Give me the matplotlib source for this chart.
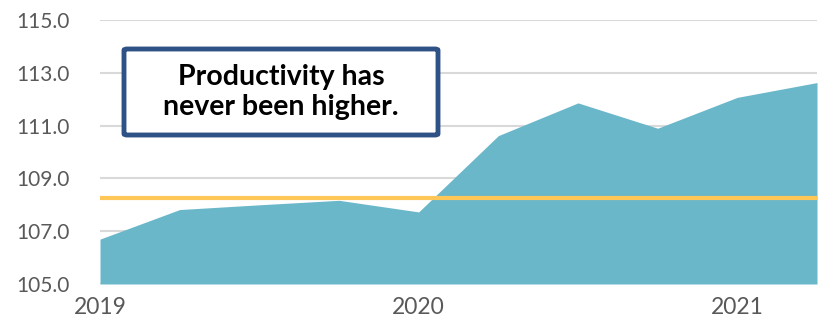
import matplotlib
matplotlib.use("Agg")
import matplotlib.pyplot as plt
from matplotlib.patches import FancyBboxPatch

quarters = [0, 1, 2, 3, 4, 5, 6, 7, 8, 9]
productivity = [106.7, 107.82, 108.0, 108.17, 107.73, 110.62, 111.86, 110.9, 112.07, 112.63]
reference_level = 108.26
year_ticks = [0, 4, 8]
year_labels = ["2019", "2020", "2021"]
y_ticks = [105, 107, 109, 111, 113, 115]

fig = plt.figure(figsize=(8.21, 3.27), dpi=100)
ax = fig.add_axes([100/821, 1-284/327, 717/821, 264/327])

ax.fill_between(quarters, productivity, 105, color="#6BB7CA", linewidth=0, zorder=2)
ax.axhline(reference_level, color="#FFC658", linewidth=3, zorder=3)

for y in y_ticks:
    ax.axhline(y, color="#D9D9D9", linewidth=1.5, zorder=1)

ax.set_xlim(0, 9)
ax.set_ylim(105, 115)
ax.set_yticks(y_ticks)
ax.set_yticklabels([f"{v:.1f}" for v in y_ticks])
ax.set_xticks(year_ticks)
ax.set_xticklabels(year_labels)
for s in ax.spines.values():
    s.set_visible(False)
ax.tick_params(axis="both", length=0, labelcolor="#595959")
ax.tick_params(axis="y", pad=22, labelsize=15)
ax.tick_params(axis="x", pad=9, labelsize=16.5)
for lab in ax.get_xticklabels() + ax.get_yticklabels():
    lab.set_fontfamily("Lato")

# annotation box
box = FancyBboxPatch((124/821, 1-135/327), 314/821, 86/327,
                     boxstyle="round,pad=0,rounding_size=0.004",
                     transform=fig.transFigure, facecolor="white",
                     edgecolor="#2F5286", linewidth=3.5, zorder=10)
fig.patches.append(box)
fig.text(281/821, 1-92/327, "Productivity has\nnever been higher.",
         ha="center", va="center", fontsize=20.5, fontweight="bold",
         family="Lato", color="black", linespacing=1.18, zorder=11)

fig.savefig("out.png", dpi=100)
